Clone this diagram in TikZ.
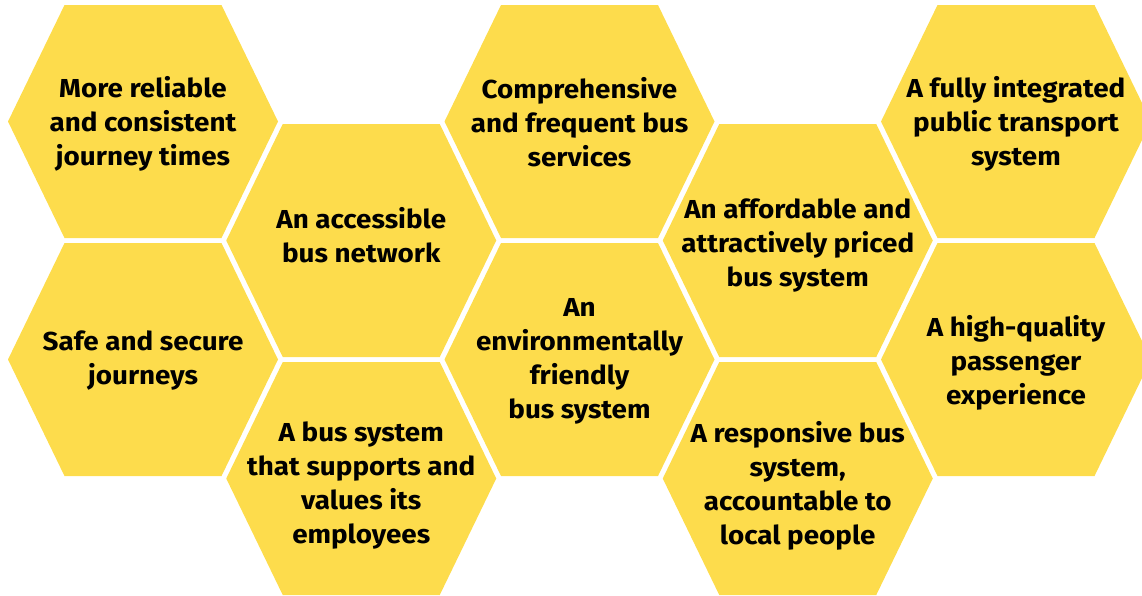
\documentclass[tikz,border=0pt]{standalone}
\usepackage{fontspec}
\setmainfont[FakeStretch=1.07]{Fira Sans}
\definecolor{honey}{RGB}{253,220,76}
\tikzset{
  hexfill/.style={fill=honey, draw=none},
  hexlabel/.style={align=center, text=black, font=\fontsize{26}{34}\selectfont\bfseries, inner sep=0pt}
}
% one cell: name, centre x, centre y, label offset, label
\newcommand{\hexcell}[5]{%
  \fill[hexfill] (#2-135,#3) -- (#2-78.5,#3-116.5) -- (#2+78.5,#3-116.5)
    -- (#2+135,#3) -- (#2+78.5,#3+116.5) -- (#2-78.5,#3+116.5) -- cycle;
  \node[hexlabel] (#1) at (#2,#3+#4) {#5};
}
\begin{document}
\begin{tikzpicture}[x=1pt,y=-1pt]
\useasboundingbox (0,0) rectangle (1142,595);
\clip (0,0) rectangle (1142,595);
\hexcell{reliable}{143}{121.5}{2}{More reliable\\and consistent\\journey times}
\hexcell{safe}{143}{359.5}{1}{Safe and secure\\journeys}
\hexcell{access}{361.25}{240.5}{-5}{An accessible\\bus network}
\hexcell{staff}{361.25}{478.5}{7}{A bus system\\that supports and\\values its\\employees}
\hexcell{frequent}{579.5}{121.5}{0.5}{Comprehensive\\and frequent bus\\services}
\hexcell{green}{579.5}{359.5}{2}{An\\environmentally\\friendly\\bus system}
\hexcell{fares}{797.75}{240.5}{5}{An affordable and\\attractively priced\\bus system}
\hexcell{local}{797.75}{478.5}{7}{A responsive bus\\system,\\accountable to\\local people}
\hexcell{integrated}{1016}{121.5}{2}{A fully integrated\\public transport\\system}
\hexcell{quality}{1016}{359.5}{3}{A high-quality\\passenger\\experience}
\end{tikzpicture}
\end{document}
